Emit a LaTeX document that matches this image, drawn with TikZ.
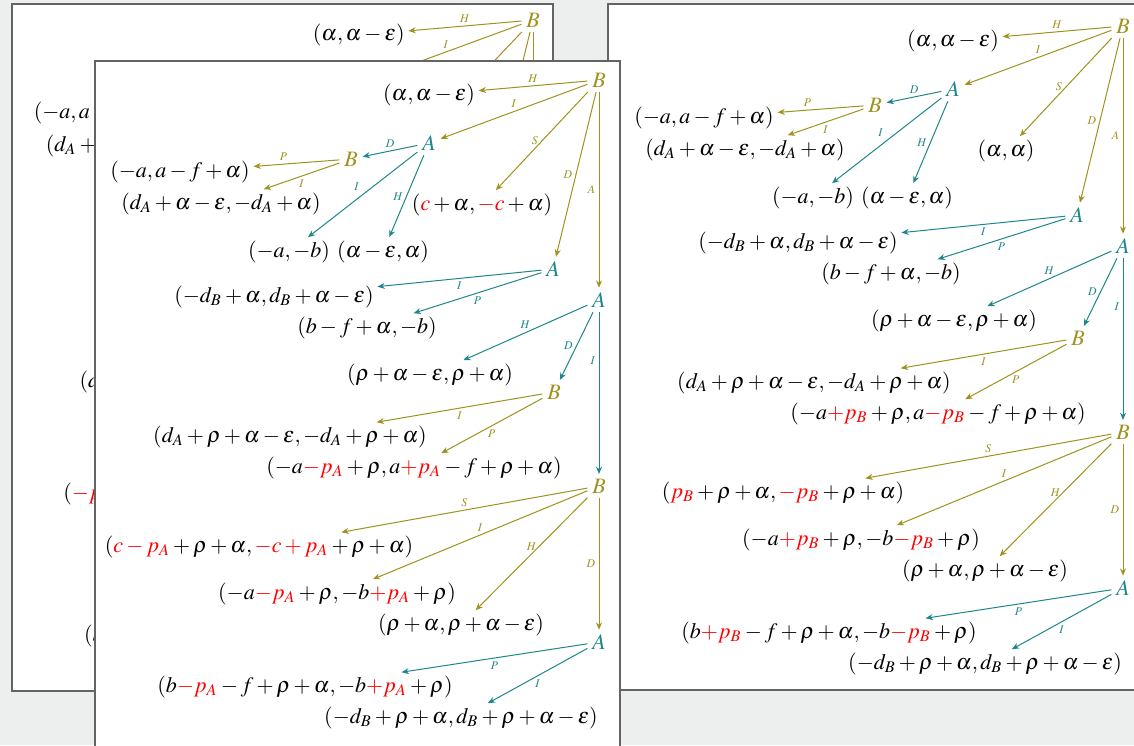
\documentclass[tikz,border=0pt]{standalone}
\usepackage{mathptmx}
\usetikzlibrary{arrows.meta}

\definecolor{bcol}{RGB}{160,146,30}
\definecolor{acol}{RGB}{30,135,140}
\definecolor{deskgray}{RGB}{237,239,238}
\definecolor{pageline}{RGB}{100,100,100}

% one game tree, root B at the origin of the current scope
% #1 prefix, #2 S at root, #3 P at second B, #4 S, #5 I, #6 P at last A
\newcommand{\gametree}[6]{%
  % ---- players ----
  \node[plb] (#1b0) at (0,0) {$B$};
  \node[pla] (#1a1) at (-170,63) {$A$};
  \node[plb] (#1b1) at (-248,79) {$B$};
  \node[pla] (#1a2) at (-46,189) {$A$};
  \node[pla] (#1a3) at (0,220) {$A$};
  \node[plb] (#1b2) at (-45,312) {$B$};
  \node[plb] (#1b3) at (0,406) {$B$};
  \node[pla] (#1a4) at (0,562) {$A$};
  % ---- payoffs ----
  \node[pay] (#1o1) at (-170,15) {$(\alpha,\alpha-\varepsilon)$};
  \node[pay] (#1o2) at (-419,92) {$(-a,a-f+\alpha)$};
  \node[pay] (#1o3) at (-378,124) {$(d_A+\alpha-\varepsilon,-d_A+\alpha)$};
  \node[pay] (#1o4) at (-310,172) {$(-a,-b)$};
  \node[pay] (#1o5) at (-216,172) {$(\alpha-\varepsilon,\alpha)$};
  \node[pay] (#1o6) at (-117,125) {#2};
  \node[pay] (#1o7) at (-325,217) {$(-d_B+\alpha,d_B+\alpha-\varepsilon)$};
  \node[pay] (#1o8) at (-232,248) {$(b-f+\alpha,-b)$};
  \node[pay] (#1o9) at (-169,295) {$(\rho+\alpha-\varepsilon,\rho+\alpha)$};
  \node[pay] (#1o10) at (-309,357) {$(d_A+\rho+\alpha-\varepsilon,-d_A+\rho+\alpha)$};
  \node[pay] (#1o11) at (-185,388) {#3};
  \node[pay] (#1o12) at (-340,467) {#4};
  \node[pay] (#1o13) at (-262,514) {#5};
  \node[pay] (#1o14) at (-138,545) {$(\rho+\alpha,\rho+\alpha-\varepsilon)$};
  \node[pay] (#1o15) at (-294,607) {#6};
  \node[pay] (#1o16) at (-138,638) {$(-d_B+\rho+\alpha,d_B+\rho+\alpha-\varepsilon)$};
  % ---- moves ----
  \draw[eb] (#1b0) -- node[lab,above] {$H$} (#1o1);
  \draw[eb] (#1b0) -- node[lab,above] {$I$} (#1a1);
  \draw[eb] (#1b0) -- node[lab,left] {$S$} (#1o6);
  \draw[eb] (#1b0) -- node[lab,left] {$D$} (#1a2);
  \draw[eb] (#1b0) -- node[lab,left] {$A$} (#1a3);
  \draw[ea] (#1a1) -- node[lab,above] {$D$} (#1b1);
  \draw[ea] (#1a1) -- node[lab,above left] {$I$} (#1o4);
  \draw[ea] (#1a1) -- node[lab,left] {$H$} (#1o5);
  \draw[eb] (#1b1) -- node[lab,above,pos=.65] {$P$} (#1o2);
  \draw[eb] (#1b1) -- node[lab,below] {$I$} (#1o3);
  \draw[ea] (#1a2) -- node[lab,below] {$I$} (#1o7);
  \draw[ea] (#1a2) -- node[lab,below] {$P$} (#1o8);
  \draw[ea] (#1a3) -- node[lab,above] {$H$} (#1o9);
  \draw[ea] (#1a3) -- node[lab,left] {$D$} (#1b2);
  \draw[ea] (#1a3) -- node[lab,left,pos=.3] {$I$} (#1b3);
  \draw[eb] (#1b2) -- node[lab,below] {$I$} (#1o10);
  \draw[eb] (#1b2) -- node[lab,below] {$P$} (#1o11);
  \draw[eb] (#1b3) -- node[lab,above] {$S$} (#1o12);
  \draw[eb] (#1b3) -- node[lab,above] {$I$} (#1o13);
  \draw[eb] (#1b3) -- node[lab,above] {$H$} (#1o14);
  \draw[eb] (#1b3) -- node[lab,left] {$D$} (#1a4);
  \draw[ea] (#1a4) -- node[lab,below] {$P$} (#1o15);
  \draw[ea] (#1a4) -- node[lab,below] {$I$} (#1o16);
}

\begin{document}
\begin{tikzpicture}[
    x=0.45pt, y=-0.45pt,
    font=\fontsize{9.9}{12}\selectfont,
    plb/.style={text=bcol, inner sep=2pt},
    pla/.style={text=acol, inner sep=2pt},
    pay/.style={inner sep=1.5pt},
    eb/.style={bcol, line width=0.45pt, -{Stealth[length=3.3pt,width=2.7pt]}},
    ea/.style={acol, line width=0.45pt, -{Stealth[length=3.3pt,width=2.7pt]}},
    lab/.style={font=\fontsize{5.3}{6}\selectfont, inner sep=1.5pt},
    page/.style={fill=white, draw=pageline, line width=0.5pt}
]
\useasboundingbox (0,0) rectangle (1134,745);
\clip (0,0) rectangle (1134,745);
\fill[deskgray] (0,0) rectangle (1134,745);

% ---- back page ----
\draw[page] (12,4) rectangle (553,691);
\begin{scope}[shift={(533,20)}, xscale=1.025, yscale=1.015]
\gametree{k}{$(\alpha,\alpha)$}
  {$(-a\textcolor{red}{-p_A}+\rho,a\textcolor{red}{+p_A}-f+\rho+\alpha)$}
  {$(\textcolor{red}{-p_A}+\rho+\alpha,\textcolor{red}{p_A}+\rho+\alpha)$}
  {$(-a\textcolor{red}{-p_A}+\rho,-b\textcolor{red}{+p_A}+\rho)$}
  {$(b\textcolor{red}{-p_A}-f+\rho+\alpha,-b\textcolor{red}{+p_A}+\rho)$}
\end{scope}

% ---- right page ----
\draw[page] (608,4) rectangle (1160,690);
\begin{scope}[shift={(1123,26)}]
\gametree{r}{$(\alpha,\alpha)$}
  {$(-a\textcolor{red}{+p_B}+\rho,a\textcolor{red}{-p_B}-f+\rho+\alpha)$}
  {$(\textcolor{red}{p_B}+\rho+\alpha,\textcolor{red}{-p_B}+\rho+\alpha)$}
  {$(-a\textcolor{red}{+p_B}+\rho,-b\textcolor{red}{-p_B}+\rho)$}
  {$(b\textcolor{red}{+p_B}-f+\rho+\alpha,-b\textcolor{red}{-p_B}+\rho)$}
\end{scope}

% ---- front page ----
\draw[page] (95,61) rectangle (620,770);
\begin{scope}[shift={(599,80)}]
\gametree{m}{$(\textcolor{red}{c}+\alpha,\textcolor{red}{-c}+\alpha)$}
  {$(-a\textcolor{red}{-p_A}+\rho,a\textcolor{red}{+p_A}-f+\rho+\alpha)$}
  {$(\textcolor{red}{c-p_A}+\rho+\alpha,\textcolor{red}{-c+p_A}+\rho+\alpha)$}
  {$(-a\textcolor{red}{-p_A}+\rho,-b\textcolor{red}{+p_A}+\rho)$}
  {$(b\textcolor{red}{-p_A}-f+\rho+\alpha,-b\textcolor{red}{+p_A}+\rho)$}
\end{scope}

\end{tikzpicture}
\end{document}
